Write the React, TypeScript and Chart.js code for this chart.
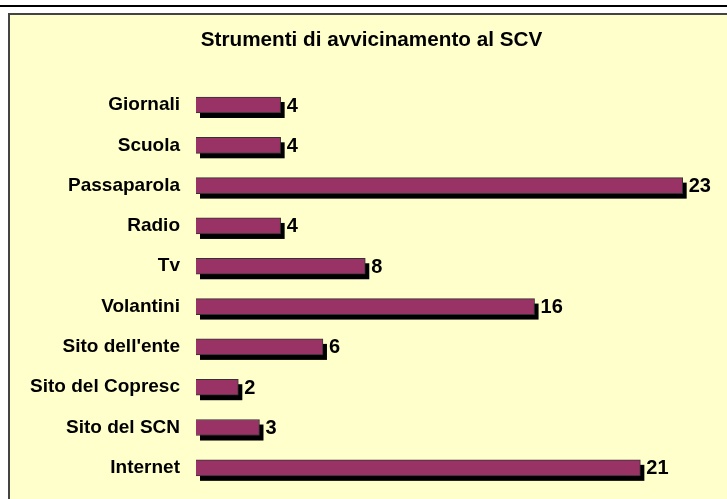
import React, { useEffect, useRef } from "react";
import { Chart, registerables } from "chart.js";

Chart.register(...registerables);

const categories = [
  "Giornali",
  "Scuola",
  "Passaparola",
  "Radio",
  "Tv",
  "Volantini",
  "Sito dell'ente",
  "Sito del Copresc",
  "Sito del SCN",
  "Internet",
];
const values = [4, 4, 23, 4, 8, 16, 6, 2, 3, 21];
const chartTitle = "Strumenti di avvicinamento al SCV";
const xMax = 25;

const FONT = "Arial, 'Liberation Sans', sans-serif";

const shadowPlugin = {
  id: "barShadow",
  beforeDatasetsDraw(chart: any) {
    const ctx = chart.ctx;
    const meta = chart.getDatasetMeta(0);
    ctx.save();
    ctx.fillStyle = "#000000";
    meta.data.forEach((el: any) => {
      const p = el.getProps(["x", "y", "base", "height"], true);
      ctx.fillRect(p.base + 4, p.y - p.height / 2 + 5, p.x - p.base, p.height);
    });
    ctx.restore();
  },
  afterDatasetsDraw(chart: any) {
    const ctx = chart.ctx;
    const meta = chart.getDatasetMeta(0);
    const data = chart.data.datasets[0].data;
    ctx.save();
    ctx.fillStyle = "#000000";
    ctx.font = `bold 20px ${FONT}`;
    ctx.textAlign = "left";
    ctx.textBaseline = "middle";
    meta.data.forEach((el: any, i: number) => {
      const p = el.getProps(["x", "y"], true);
      ctx.fillText(String(data[i]), p.x + 6, p.y + 1);
    });
    ctx.restore();
  },
};

export default function App() {
  const ref = useRef<HTMLCanvasElement>(null);
  useEffect(() => {
    if (!ref.current) return;
    const chart = new Chart(ref.current, {
      type: "bar",
      data: {
        labels: categories,
        datasets: [
          {
            data: values,
            backgroundColor: "#993366",
            borderColor: "#333333",
            borderWidth: 1,
            barThickness: 16,
          },
        ],
      },
      options: {
        indexAxis: "y",
        animation: false,
        responsive: false,
        devicePixelRatio: 1,
        layout: { padding: { left: 18, right: 2, top: 0, bottom: 11 } },
        plugins: {
          legend: { display: false },
          tooltip: { enabled: false },
          title: {
            display: true,
            text: chartTitle,
            color: "#000000",
            font: { family: FONT, size: 20.7, weight: "bold" },
            padding: { top: 28, bottom: 32 },
          },
        },
        scales: {
          x: {
            display: false,
            min: 0,
            max: xMax,
          },
          y: {
            grid: { display: false, drawTicks: false },
            border: { display: false },
            ticks: {
              color: "#000000",
              font: { family: FONT, size: 19, weight: "bold" },
              padding: 16,
            },
            afterFit(scale: any) {
              scale.width = 178;
              scale.paddingTop = 0;
              scale.paddingBottom = 0;
            },
          },
        },
      },
      plugins: [shadowPlugin],
    });
    return () => chart.destroy();
  }, []);

  return (
    <div
      style={{
        position: "fixed",
        left: 0,
        top: 0,
        width: 727,
        height: 499,
        background: "#ffffff",
        overflow: "hidden",
      }}
    >
      <div
        style={{
          position: "absolute",
          left: 0,
          top: 5,
          width: 727,
          height: 2,
          background: "#000000",
        }}
      />
      <div
        style={{
          position: "absolute",
          left: 8,
          top: 13,
          width: 719,
          height: 486,
          background: "#FFFFCC",
          borderLeft: "2px solid #444444",
          borderTop: "2px solid #444444",
          boxSizing: "border-box",
        }}
      />
      <canvas
        ref={ref}
        width={727}
        height={499}
        style={{ position: "absolute", left: 0, top: 0, width: 727, height: 499 }}
      />
    </div>
  );
}
